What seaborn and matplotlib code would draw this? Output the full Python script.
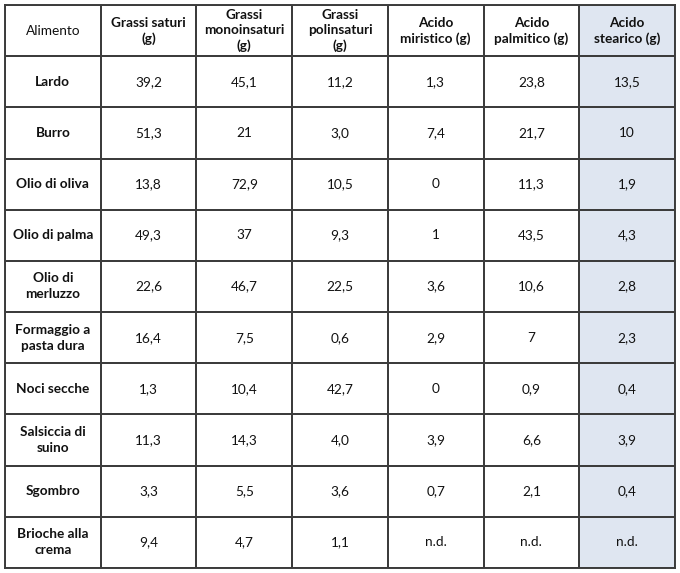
import numpy as np
import pandas as pd
import matplotlib
matplotlib.use("Agg")
import matplotlib.pyplot as plt
import seaborn as sns
from matplotlib.colors import ListedColormap

headers = ["Alimento", "Grassi saturi\n(g)", "Grassi\nmonoinsaturi\n(g)", "Grassi\npolinsaturi\n(g)",
           "Acido\nmiristico (g)", "Acido\npalmitico (g)", "Acido\nstearico (g)"]
foods = ["Lardo", "Burro", "Olio di oliva", "Olio di palma", "Olio di\nmerluzzo",
         "Formaggio a\npasta dura", "Noci secche", "Salsiccia di\nsuino", "Sgombro", "Brioche alla\ncrema"]
saturi = ["39,2", "51,3", "13,8", "49,3", "22,6", "16,4", "1,3", "11,3", "3,3", "9,4"]
mono = ["45,1", "21", "72,9", "37", "46,7", "7,5", "10,4", "14,3", "5,5", "4,7"]
poli = ["11,2", "3,0", "10,5", "9,3", "22,5", "0,6", "42,7", "4,0", "3,6", "1,1"]
miristico = ["1,3", "7,4", "0", "1", "3,6", "2,9", "0", "3,9", "0,7", "n.d."]
palmitico = ["23,8", "21,7", "11,3", "43,5", "10,6", "7", "0,9", "6,6", "2,1", "n.d."]
stearico = ["13,5", "10", "1,9", "4,3", "2,8", "2,3", "0,4", "3,9", "0,4", "n.d."]

cols = [foods, saturi, mono, poli, miristico, palmitico, stearico]
nrows, ncols = len(foods) + 1, len(headers)
shade = np.zeros((nrows, ncols))
shade[:, -1] = 1
df = pd.DataFrame(shade)

fig = plt.figure(figsize=(6.8, 5.73), dpi=100)
ax = fig.add_axes([5/680, 5/573, 670/680, 563/573])
sns.heatmap(df, ax=ax, cmap=ListedColormap(["#ffffff", "#dfe6f1"]), cbar=False,
            linewidths=1.2, linecolor="#3c3c3c", xticklabels=False, yticklabels=False)
for s in ax.spines.values():
    s.set_visible(True); s.set_color("#3c3c3c"); s.set_linewidth(1.4)

font = "Lato"
for j, h in enumerate(headers):
    ax.text(j + 0.5, 0.5, h, ha="center", va="center", fontsize=9.8, family=font,
            fontweight="normal" if j == 0 else "bold", color="#111", linespacing=1.3)
for j, col in enumerate(cols):
    for i, v in enumerate(col):
        ax.text(j + 0.5, i + 1.5, v, ha="center", va="center", fontsize=9.8, family=font,
                fontweight="bold" if j == 0 else "normal", color="#111", linespacing=1.4)

fig.savefig("out.png", dpi=100, facecolor="white")
